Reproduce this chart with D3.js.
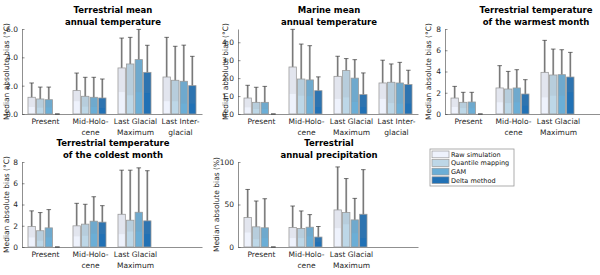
<!DOCTYPE html>
<html>
<head>
<meta charset="utf-8">
<script src="https://cdn.jsdelivr.net/npm/d3@7"></script>
<style>
  body { margin: 0; background: #fff; }
  svg text { font-family: "DejaVu Sans", sans-serif; fill: #262626; }
</style>
</head>
<body>
<div id="chart"></div>
<script>
// methods and colours
var methods = ['Raw simulation', 'Quantile mapping', 'GAM', 'Delta method']
var methodColours = ['#eef2fc', '#bdd7e7', '#6baed6', '#2171b5']

// periods (| marks a line break in the tick label)
var periods = ['Present', 'Mid-Holo-|cene', 'Last Glacial|Maximum', 'Last Inter-|glacial']

// Terrestrial mean annual temperature: rows = periods, cols = methods
var tmatMedian = [[1.18, 1.06, 1.01, 0], [1.65, 1.25, 1.18, 1.13], [3.25, 3.53, 3.84, 2.94], [2.61, 2.38, 2.31, 2.0]]
var tmatLow    = [[0.49, 0.44, 0.47, 0], [0.90, 0.52, 0.50, 0.42], [1.55, 1.32, 1.55, 1.48], [0.90, 0.90, 0.73, 0.73]]
var tmatHigh   = [[2.19, 1.90, 1.90, 0], [2.89, 2.59, 2.59, 2.47], [5.36, 5.41, 5.97, 4.85], [5.41, 4.78, 4.86, 4.07]]

// Marine mean annual temperature
var mmatMedian = [[0.89, 0.65, 0.65, 0], [2.62, 1.95, 1.90, 1.30], [2.10, 2.42, 2.00, 1.08], [1.73, 1.77, 1.73, 1.64]]
var mmatLow    = [[0.37, 0.28, 0.28, 0], [1.12, 1.02, 0.99, 0.39], [0.84, 0.93, 0.67, 0.39], [0.84, 0.61, 0.58, 0.58]]
var mmatHigh   = [[1.60, 1.49, 1.54, 0], [4.72, 3.90, 3.81, 2.07], [3.22, 3.09, 3.03, 2.29], [3.00, 2.79, 2.88, 2.44]]

// Terrestrial temperature of the warmest month
var mtwaMedian = [[1.50, 1.10, 1.13, 0], [2.45, 2.35, 2.45, 1.88], [3.92, 3.67, 3.70, 3.48]]
var mtwaLow    = [[0.66, 0.56, 0.56, 0], [1.10, 1.03, 1.10, 0.78], [1.57, 1.72, 1.72, 2.04]]
var mtwaHigh   = [[2.60, 2.04, 2.04, 0], [4.55, 4.01, 4.17, 3.23], [6.93, 6.11, 6.05, 5.80]]

// Terrestrial temperature of the coldest month
var mtcoMedian = [[1.93, 1.53, 1.80, 0], [1.99, 2.15, 2.43, 2.34], [3.08, 2.52, 3.27, 2.46]]
var mtcoLow    = [[0.90, 0.59, 0.90, 0], [1.00, 1.06, 1.25, 1.21], [1.21, 1.46, 1.46, 1.21]]
var mtcoHigh   = [[3.40, 3.24, 3.52, 0], [4.11, 4.02, 4.73, 3.89], [7.23, 7.23, 7.45, 7.18]]

// Terrestrial annual precipitation (%)
var mapMedian = [[34.6, 23.7, 22.6, 0], [23.0, 21.8, 23.3, 11.7], [43.6, 40.5, 31.9, 38.5]]
var mapLow    = [[17.1, 9.3, 10.5, 0], [10.5, 10.5, 12.5, 6.0], [22.2, 26.8, 16.3, 10.5]]
var mapHigh   = [[67.7, 54.1, 56.8, 0], [48.2, 42.4, 38.1, 24.1], [94.2, 80.5, 57.2, 91.0]]

var panels = [
  {title: ['Terrestrial mean', 'annual temperature'], med: tmatMedian, lo: tmatLow, hi: tmatHigh,
   ymax: 6, ticks: [0, 2, 4, 6], unit: '°C', x0: 22, top: 29, labelX: 6},
  {title: ['Marine mean', 'annual temperature'], med: mmatMedian, lo: mmatLow, hi: mmatHigh,
   ymax: 4.74, ticks: [0, 1, 2, 3, 4], unit: '°C', x0: 238, top: 29, labelX: 225},
  {title: ['Terrestrial temperature', 'of the warmest month'], med: mtwaMedian, lo: mtwaLow, hi: mtwaHigh,
   ymax: 8, ticks: [0, 2, 4, 6, 8], unit: '°C', x0: 445, top: 29, labelX: 428},
  {title: ['Terrestrial temperature', 'of the coldest month'], med: mtcoMedian, lo: mtcoLow, hi: mtcoHigh,
   ymax: 8, ticks: [0, 2, 4, 6, 8], unit: '°C', x0: 22, top: 162, labelX: 6},
  {title: ['Terrestrial', 'annual precipitation'], med: mapMedian, lo: mapLow, hi: mapHigh,
   ymax: 100, ticks: [0, 50, 100], unit: '%', x0: 238, top: 162, labelX: 216}
]

var width = 600, height = 275
var plotH = 85, plotW = 180

var svg = d3.select('#chart').append('svg')
  .attr('width', width)
  .attr('height', height)

var xm = d3.scaleBand().domain(methods).range([-16.5, 16.5]).paddingInner(0.14)
var colour = d3.scaleOrdinal().domain(methods).range(methodColours)

panels.forEach(function (p) {
  var bottom = p.top + plotH
  var x = d3.scaleLinear().domain([0.5, 4.5]).range([p.x0, p.x0 + plotW])
  var y = d3.scaleLinear().domain([0, p.ymax]).range([bottom, p.top])
  var g = svg.append('g')

  // title
  p.title.forEach(function (t, i) {
    g.append('text')
      .attr('x', p.x0 + plotW / 2 + 1)
      .attr('y', p.top - 16 + i * 11.5)
      .attr('text-anchor', 'middle')
      .style('font-size', '8.5px')
      .style('font-weight', 'bold')
      .style('fill', '#000')
      .text(t)
  })

  // y axis, ticks pointing inward
  var yAxis = g.append('g')
    .attr('transform', 'translate(' + p.x0 + ',0)')
    .call(d3.axisLeft(y).tickValues(p.ticks).tickSize(-2.5).tickSizeOuter(0).tickPadding(4))
  yAxis.selectAll('text').style('font-size', '7.5px').style('font-family', '"DejaVu Sans", sans-serif').style('fill', '#262626')
  yAxis.selectAll('line, path').attr('stroke', '#444').attr('stroke-width', 0.6)

  g.append('text')
    .attr('transform', 'translate(' + p.labelX + ',' + (p.top + plotH / 2) + ') rotate(-90)')
    .attr('text-anchor', 'middle')
    .attr('dy', '0.35em')
    .style('font-size', '7.5px')
    .text('Median absolute bias (' + p.unit + ')')

  // x axis line
  var xAxis = g.append('g')
    .attr('transform', 'translate(0,' + bottom + ')')
    .call(d3.axisBottom(x).tickValues([]).tickSizeOuter(0))
  xAxis.select('path').attr('stroke', '#444').attr('stroke-width', 0.6)

  // period labels
  periods.slice(0, p.med.length).forEach(function (lab, i) {
    lab.split('|').forEach(function (line, j) {
      g.append('text')
        .attr('x', x(i + 1) + 1)
        .attr('y', bottom + 10 + j * 10.5)
        .attr('text-anchor', 'middle')
        .style('font-size', '7.5px')
        .text(line)
    })
  })

  // bars + error bars
  p.med.forEach(function (row, i) {
    var cx = x(i + 1)
    var grp = g.append('g')
    var data = methods.map(function (m, k) {
      return {method: m, v: row[k], lo: p.lo[i][k], hi: p.hi[i][k]}
    })

    var eb = grp.selectAll('g.eb')
      .data(data)
      .enter().append('g')
      .attr('class', 'eb')
      .attr('transform', function (d) { return 'translate(' + (cx + xm(d.method) + xm.bandwidth() / 2) + ',0)' })

    // wide grey band behind the bars
    eb.filter(function (d) { return d.hi > 0 })
      .append('line')
      .attr('y1', function (d) { return y(d.lo) })
      .attr('y2', function (d) { return y(d.hi) })
      .attr('stroke', '#b6b6b6')
      .attr('stroke-width', 2)

    grp.selectAll('rect.bar')
      .data(data.filter(function (d) { return d.v > 0 }))
      .enter().append('rect')
      .attr('class', 'bar')
      .attr('x', function (d) { return cx + xm(d.method) })
      .attr('y', function (d) { return y(d.v) })
      .attr('width', xm.bandwidth())
      .attr('height', function (d) { return y(0) - y(d.v) })
      .attr('fill', function (d) { return colour(d.method) })
      .attr('stroke', '#9a9a9a')
      .attr('stroke-width', 0.8)

    // grey tint of the band over the bar
    grp.selectAll('rect.tint')
      .data(data.filter(function (d) { return d.v > 0 }))
      .enter().append('rect')
      .attr('class', 'tint')
      .attr('x', function (d) { return cx + xm(d.method) + 0.5 })
      .attr('y', function (d) { return y(d.v) + 0.5 })
      .attr('width', xm.bandwidth() - 1)
      .attr('height', function (d) { return Math.max(0, y(d.lo) - y(d.v) - 0.5) })
      .attr('fill', '#888')
      .attr('fill-opacity', 0.12)

    eb.append('line')
      .attr('y1', function (d) { return y(d.lo) })
      .attr('y2', function (d) { return y(d.hi) })
      .attr('stroke', '#3a3a3a')
      .attr('stroke-width', 0.6)

    eb.selectAll('line.cap')
      .data(function (d) { return [d.lo, d.hi] })
      .enter().append('line')
      .attr('class', 'cap')
      .attr('x1', -2.3).attr('x2', 2.3)
      .attr('y1', function (v) { return y(v) })
      .attr('y2', function (v) { return y(v) })
      .attr('stroke', '#3a3a3a')
      .attr('stroke-width', 0.7)
  })
})

// legend
var legend = svg.append('g').attr('transform', 'translate(430,149)')
legend.append('rect')
  .attr('width', 84).attr('height', 37)
  .attr('fill', '#fff')
  .attr('stroke', '#999')
  .attr('stroke-width', 0.8)

methods.forEach(function (m, i) {
  legend.append('rect')
    .attr('x', 2).attr('y', 2 + i * 8.6)
    .attr('width', 17).attr('height', 6.8)
    .attr('fill', colour(m))
    .attr('stroke', '#9a9a9a')
    .attr('stroke-width', 0.7)
  legend.append('text')
    .attr('x', 21).attr('y', 5.6 + i * 8.6)
    .attr('dy', '0.35em')
    .style('font-size', '6.5px')
    .style('fill', '#111')
    .text(m)
})
</script>
</body>
</html>
